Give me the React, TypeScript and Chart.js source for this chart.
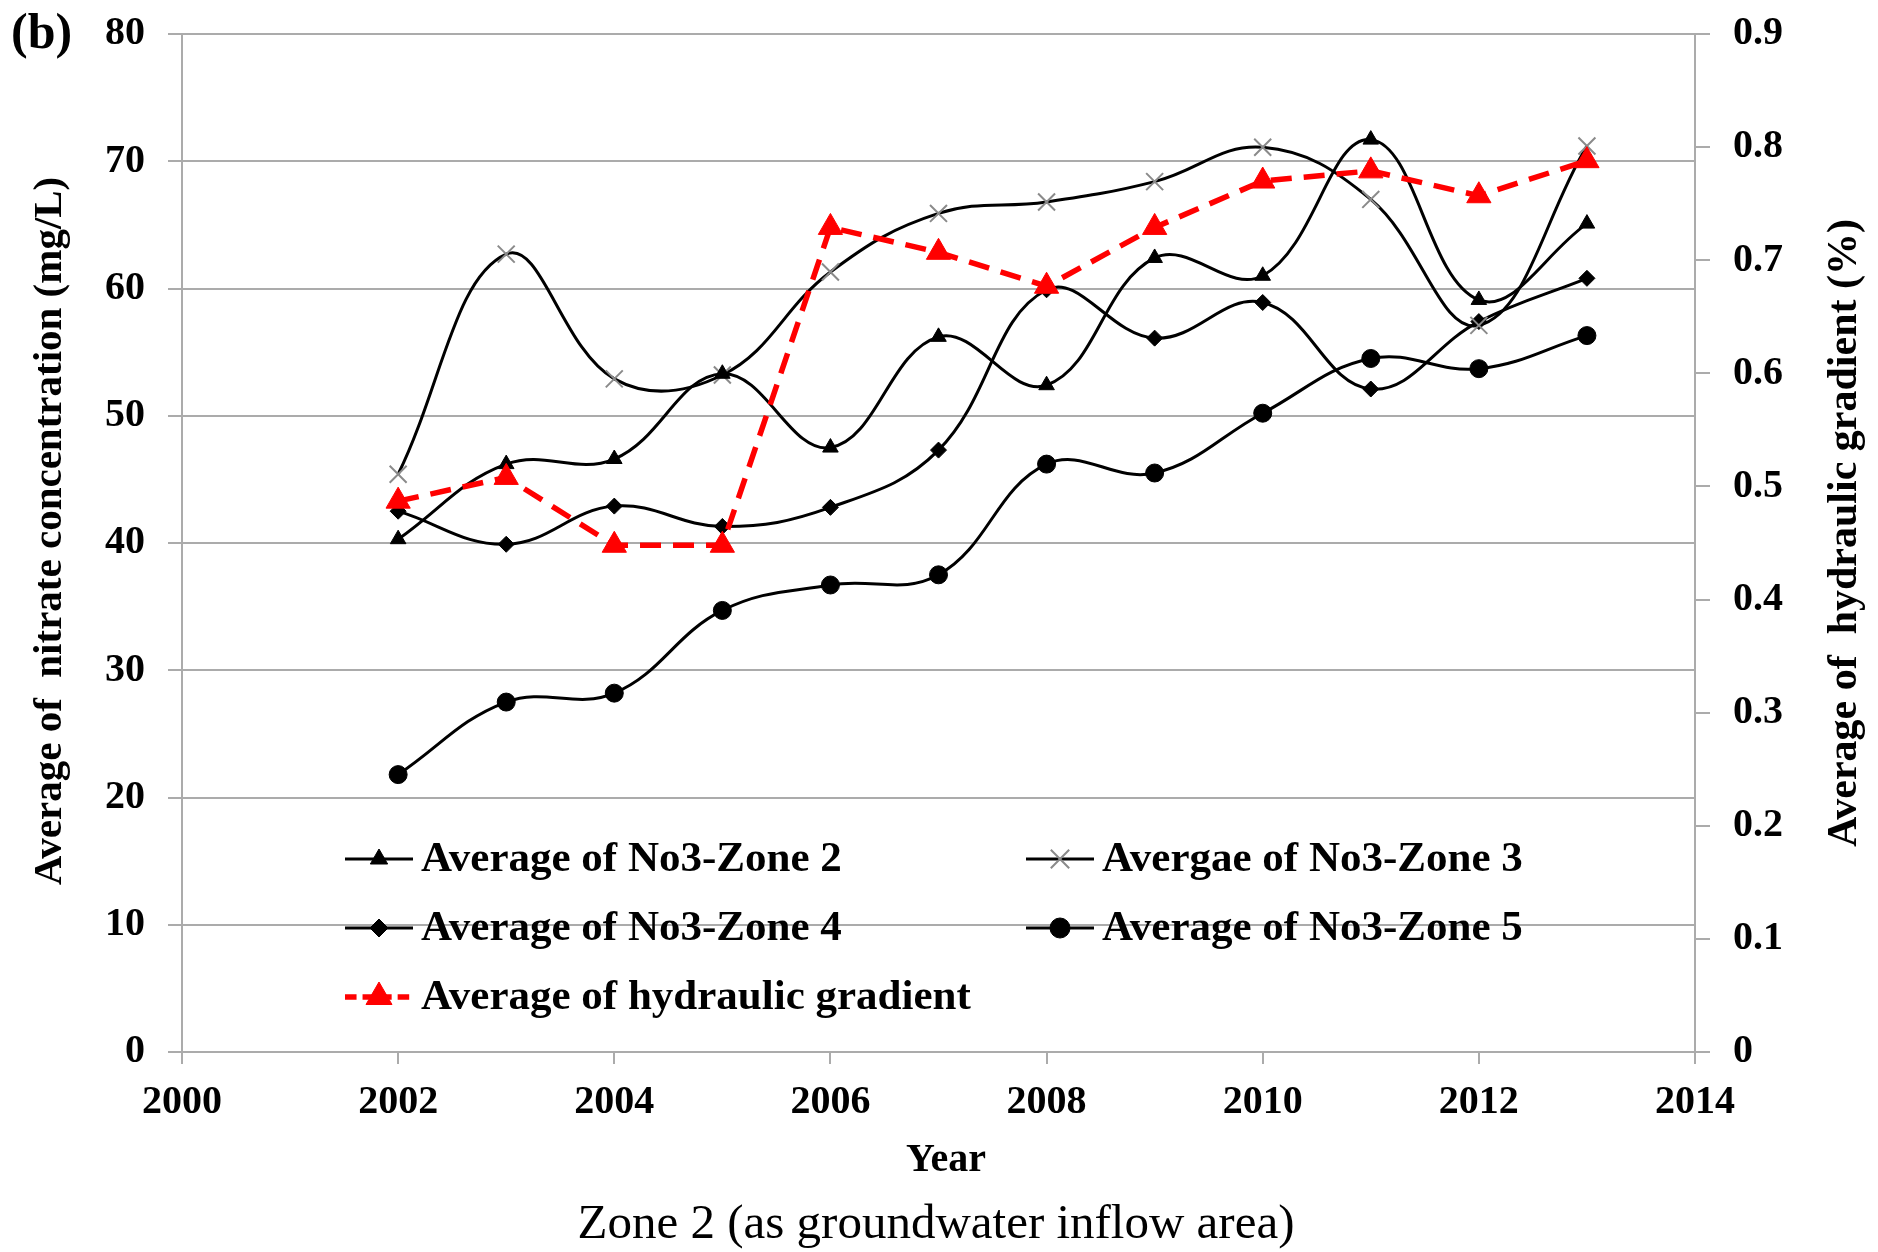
import React, { useEffect, useRef } from 'react';
import { Chart, registerables } from 'chart.js';
import { drawPoint } from 'chart.js/helpers';

Chart.register(...registerables);

// ---- data ----
const years = [2002, 2003, 2004, 2005, 2006, 2007, 2008, 2009, 2010, 2011, 2012, 2013];
const zone2 = [40.3, 46.2, 46.6, 53.3, 47.5, 56.2, 52.4, 62.4, 61.0, 71.7, 59.1, 65.1];
const zone3 = [45.4, 62.7, 52.9, 53.2, 61.3, 65.9, 66.8, 68.4, 71.1, 67.0, 57.1, 71.2];
const zone4 = [42.5, 39.9, 42.9, 41.3, 42.8, 47.3, 59.9, 56.1, 58.9, 52.1, 57.4, 60.8];
const zone5 = [21.8, 27.5, 28.2, 34.7, 36.7, 37.5, 46.2, 45.5, 50.2, 54.5, 53.7, 56.3];
const hydraulic = [0.487, 0.508, 0.448, 0.448, 0.729, 0.707, 0.677, 0.729, 0.770, 0.779, 0.757, 0.788];

const labels = [
  'Average of No3-Zone 2',
  'Avergae of No3-Zone 3',
  'Average of No3-Zone 4',
  'Average of No3-Zone 5',
  'Average of hydraulic gradient',
];

const leftTitle = 'Average of  nitrate concentration (mg/L)';
const rightTitle = 'Average of  hydraulic gradient (%)';
const xTitle = 'Year';
const caption = 'Zone 2 (as groundwater inflow area)';
const panelTag = '(b)';

const SERIF = "'Liberation Serif', 'Times New Roman', serif";
const GRID = '#ababab';

const toPts = (vals: number[]) => vals.map((v, i) => ({ x: years[i], y: v }));

// legend slots: [dataset index, column, row]
const legendSlots: [number, number, number][] = [
  [1, 0, 0],
  [2, 1, 0],
  [3, 0, 1],
  [4, 1, 1],
  [0, 0, 2],
];

const textPlugin = {
  id: 'textPlugin',
  afterDraw(chart: any) {
    const ctx: CanvasRenderingContext2D = chart.ctx;
    ctx.save();
    ctx.fillStyle = '#000';

    // panel tag
    ctx.font = `bold 50px ${SERIF}`;
    ctx.textAlign = 'left';
    ctx.textBaseline = 'middle';
    ctx.fillText(panelTag, 11, 35);

    // left title
    ctx.font = `bold 41px ${SERIF}`;
    ctx.textAlign = 'center';
    ctx.save();
    ctx.translate(50, 531);
    ctx.rotate(-Math.PI / 2);
    ctx.fillText(leftTitle, 0, 0);
    ctx.restore();

    // right title
    ctx.save();
    ctx.translate(1845, 533);
    ctx.rotate(-Math.PI / 2);
    ctx.font = `bold 42px ${SERIF}`;
    ctx.fillText(rightTitle, 0, 0);
    ctx.restore();

    // x title
    ctx.font = `bold 40px ${SERIF}`;
    ctx.fillText(xTitle, 946, 1161);

    // caption
    ctx.font = `49px ${SERIF}`;
    ctx.fillText(caption, 936, 1225);

    // legend
    const colLine = [345, 1026];
    const colLen = 68;
    const rowY = [859, 928, 997];
    ctx.font = `bold 43px ${SERIF}`;
    ctx.textAlign = 'left';
    ctx.textBaseline = 'middle';
    for (const [di, col, row] of legendSlots) {
      const ds: any = chart.data.datasets[di];
      const x0 = colLine[col];
      const y = rowY[row];
      ctx.save();
      ctx.strokeStyle = ds.borderColor;
      ctx.lineWidth = ds.borderWidth;
      ctx.setLineDash(ds.borderDash ? [ds.borderDash[0] * 0.55, ds.borderDash[1] * 0.5] : []);
      ctx.beginPath();
      ctx.moveTo(x0, y);
      ctx.lineTo(x0 + colLen, y);
      ctx.stroke();
      ctx.setLineDash([]);
      ctx.fillStyle = ds.pointBackgroundColor;
      ctx.strokeStyle = ds.pointBorderColor;
      ctx.lineWidth = ds.pointBorderWidth;
      drawPoint(
        ctx,
        { pointStyle: ds.pointStyle, radius: ds.pointRadius + 1, borderWidth: ds.pointBorderWidth, rotation: 0 },
        x0 + colLen / 2,
        y
      );
      ctx.restore();
      ctx.fillStyle = '#000';
      ctx.fillText(ds.label, x0 + colLen + 8, y + 1);
    }
    ctx.restore();
  },
};

const noPad = (s: any) => {
  s.paddingTop = 0;
  s.paddingBottom = 0;
  s.paddingLeft = 0;
  s.paddingRight = 0;
};

export default function App() {
  const ref = useRef<HTMLCanvasElement | null>(null);

  useEffect(() => {
    if (!ref.current) return;
    const tickFont = { family: SERIF, size: 40, weight: 'bold' as const };
    const chart = new Chart(ref.current, {
      type: 'line',
      data: {
        datasets: [
          {
            label: labels[4],
            data: toPts(hydraulic),
            yAxisID: 'y1',
            borderColor: '#ff0000',
            backgroundColor: '#ff0000',
            borderWidth: 5.5,
            borderDash: [21, 12],
            tension: 0,
            pointStyle: 'triangle',
            pointRadius: 14,
            pointBackgroundColor: '#ff0000',
            pointBorderColor: '#ff0000',
            pointBorderWidth: 1,
            order: 0,
          },
          {
            label: labels[0],
            data: toPts(zone2),
            yAxisID: 'y',
            borderColor: '#000',
            backgroundColor: '#000',
            borderWidth: 3,
            tension: 0.4,
            pointStyle: 'triangle',
            pointRadius: 9,
            pointBackgroundColor: '#000',
            pointBorderColor: '#000',
            pointBorderWidth: 1,
            order: 1,
          },
          {
            label: labels[1],
            data: toPts(zone3),
            yAxisID: 'y',
            borderColor: '#000',
            backgroundColor: '#000',
            borderWidth: 3,
            tension: 0.4,
            pointStyle: 'crossRot',
            pointRadius: 12,
            pointBackgroundColor: '#8a8a8a',
            pointBorderColor: '#8a8a8a',
            pointBorderWidth: 2,
            order: 1,
          },
          {
            label: labels[2],
            data: toPts(zone4),
            yAxisID: 'y',
            borderColor: '#000',
            backgroundColor: '#000',
            borderWidth: 3,
            tension: 0.4,
            pointStyle: 'rectRot',
            pointRadius: 8,
            pointBackgroundColor: '#000',
            pointBorderColor: '#000',
            pointBorderWidth: 1,
            order: 1,
          },
          {
            label: labels[3],
            data: toPts(zone5),
            yAxisID: 'y',
            borderColor: '#000',
            backgroundColor: '#000',
            borderWidth: 3,
            tension: 0.4,
            pointStyle: 'circle',
            pointRadius: 9,
            pointBackgroundColor: '#000',
            pointBorderColor: '#000',
            pointBorderWidth: 1,
            order: 1,
          },
        ],
      },
      options: {
        animation: false,
        responsive: false,
        devicePixelRatio: 1,
        layout: { padding: { top: 34, left: 0, right: 0, bottom: 0 } },
        plugins: {
          legend: { display: false },
          tooltip: { enabled: false },
          title: { display: false },
        },
        scales: {
          x: {
            type: 'linear',
            position: 'bottom',
            min: 2000,
            max: 2014,
            afterFit: (s: any) => {
              s.height = 200;
              noPad(s);
            },
            ticks: {
              stepSize: 2,
              autoSkip: false,
              maxRotation: 0,
              padding: 15,
              color: '#000',
              font: tickFont,
              callback: (v: any) => String(v),
            },
            grid: { drawOnChartArea: false, drawTicks: true, tickLength: 12, color: GRID, lineWidth: 2 },
            border: { display: true, color: GRID, width: 2 },
          },
          y: {
            type: 'linear',
            position: 'left',
            min: 0,
            max: 80,
            afterFit: (s: any) => {
              s.width = 182;
              noPad(s);
            },
            ticks: { stepSize: 10, padding: 23, color: '#000', font: tickFont },
            grid: { color: GRID, lineWidth: 2, tickLength: 14 },
            border: { display: true, color: GRID, width: 2 },
          },
          y1: {
            type: 'linear',
            position: 'right',
            min: 0,
            max: 0.9,
            afterFit: (s: any) => {
              s.width = 183;
              noPad(s);
            },
            ticks: {
              stepSize: 0.1,
              padding: 23,
              color: '#000',
              font: tickFont,
              callback: (v: any) => {
                const n = Math.round(Number(v) * 10) / 10;
                return n === 0 ? '0' : n.toFixed(1);
              },
            },
            grid: { drawOnChartArea: false, drawTicks: true, tickLength: 15, color: GRID, lineWidth: 2 },
            border: { display: true, color: GRID, width: 2 },
          },
        },
      },
      plugins: [textPlugin],
    } as any);
    return () => chart.destroy();
  }, []);

  return (
    <div style={{ position: 'absolute', left: 0, top: 0, width: 1878, height: 1252, background: '#fff' }}>
      <canvas ref={ref} width={1878} height={1252} style={{ width: 1878, height: 1252, display: 'block' }} />
    </div>
  );
}
